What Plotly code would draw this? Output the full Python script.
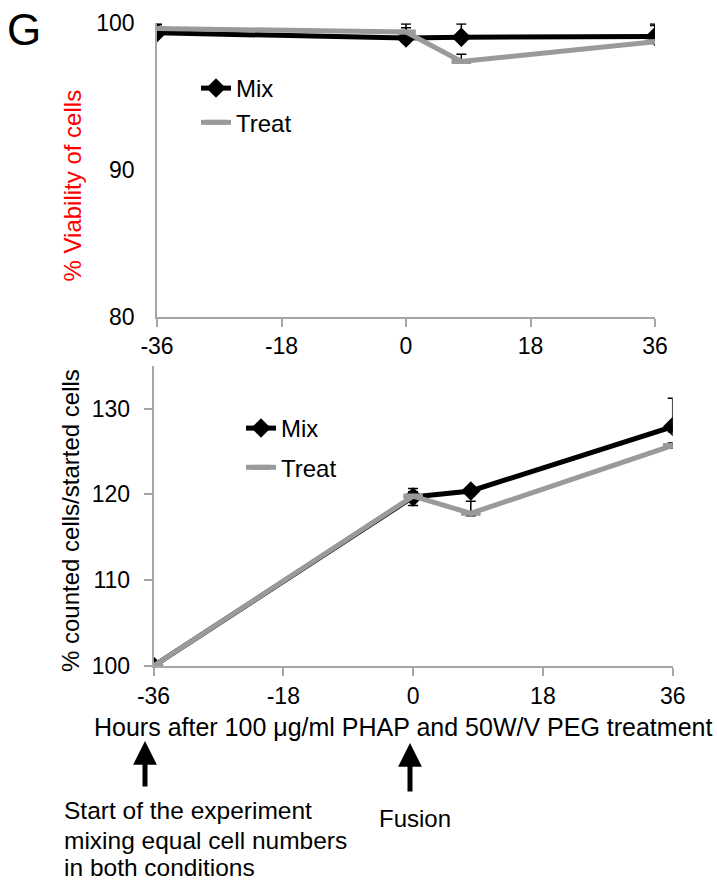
import plotly.graph_objects as go

W, H = 717, 884

hours = [-36, 0, 8, 36]
tick_vals = [-36, -18, 0, 18, 36]
tick_text = ["-36", "-18", "0", "18", "36"]

# Top panel: % viability
via_mix = [99.35, 99.0, 99.05, 99.1]
via_mix_err = [0.55, 0.95, 0.9, 0.85]
via_treat = [99.65, 99.4, 97.4, 98.75]
via_treat_err = [0.3, 0.3, 0.5, 1.1]
no_err = [0, 0, 0, 0]

# Bottom panel: % counted / started cells
cnt_mix = [100.0, 119.7, 120.4, 127.9]
cnt_mix_err_plus = [0.3, 1.0, 0.4, 3.3]
cnt_mix_err_minus = [0.3, 1.0, 0.4, 0.6]
cnt_treat = [100.0, 119.8, 117.8, 125.7]
cnt_treat_err_plus = [0.3, 0.5, 1.4, 0.3]
cnt_treat_err_minus = [0.3, 0.5, 0.3, 0.3]

start_note = ["Start of the experiment", "mixing equal cell numbers", "in both conditions"]

FONT = "Liberation Sans, Arial, sans-serif"
GREY = "#9a9a9a"
AXC = "#a6a6a6"

def px_x(p):
    return p / W

def px_y(p):
    return 1 - p / H

fig = go.Figure()

# Top
fig.add_trace(go.Scatter(
    x=hours, y=via_mix, name="Mix", mode="lines+markers",
    line=dict(color="black", width=5),
    marker=dict(symbol="diamond", size=15, color="black"),
    error_y=dict(type="data", array=via_mix_err, arrayminus=no_err, color="black", thickness=1.5, width=5),
    xaxis="x", yaxis="y", legend="legend", legendgroup="a"))
fig.add_trace(go.Scatter(
    x=hours, y=via_treat, name="Treat", mode="lines+markers",
    line=dict(color=GREY, width=5),
    marker=dict(symbol="line-ew", size=14, color=GREY, line=dict(color=GREY, width=5)),
    error_y=dict(type="data", array=via_treat_err, arrayminus=no_err, color="black", thickness=1.5, width=5),
    xaxis="x", yaxis="y", legend="legend", legendgroup="b"))

# Bottom
fig.add_trace(go.Scatter(
    x=hours, y=cnt_mix, name="Mix", mode="lines+markers",
    line=dict(color="black", width=5),
    marker=dict(symbol="diamond", size=15, color="black"),
    error_y=dict(type="data", array=cnt_mix_err_plus, arrayminus=cnt_mix_err_minus,
                 color="black", thickness=1.5, width=5),
    xaxis="x2", yaxis="y2", legend="legend2", legendgroup="c"))
fig.add_trace(go.Scatter(
    x=hours, y=cnt_treat, name="Treat", mode="lines+markers",
    line=dict(color=GREY, width=5),
    marker=dict(symbol="line-ew", size=14, color=GREY, line=dict(color=GREY, width=5)),
    error_y=dict(type="data", array=cnt_treat_err_plus, arrayminus=cnt_treat_err_minus,
                 color="black", thickness=1.5, width=5),
    xaxis="x2", yaxis="y2", legend="legend2", legendgroup="d"))

axis_common = dict(showgrid=False, zeroline=False, showline=True, linecolor=AXC, linewidth=1.5,
                   automargin=False, tickfont=dict(family=FONT, size=23, color="black"))

fig.update_layout(
    template="none",
    width=W, height=H,
    margin=dict(l=0, r=0, t=0, b=0, pad=0, autoexpand=False),
    paper_bgcolor="white", plot_bgcolor="white",
    font=dict(family=FONT, color="black"),
    xaxis=dict(domain=[px_x(157), px_x(655)], range=[-36, 36], anchor="y",
               tickmode="array", tickvals=tick_vals, ticktext=tick_text,
               ticks="outside", ticklen=8, tickwidth=1.5, tickcolor=AXC,
               ticklabelstandoff=0, **axis_common),
    yaxis=dict(domain=[px_y(317), px_y(23.3)], range=[80, 100], anchor="x",
               tickmode="array", tickvals=[80, 90, 100],
               ticks="", ticklabelstandoff=16, **axis_common),
    xaxis2=dict(domain=[px_x(153.5), px_x(672.7)], range=[-36, 36], anchor="y2",
                tickmode="array", tickvals=tick_vals, ticktext=tick_text,
                ticks="outside", ticklen=8, tickwidth=1.5, tickcolor=AXC,
                ticklabelstandoff=1, **axis_common),
    yaxis2=dict(domain=[px_y(666), px_y(365.7)], range=[100, 135], anchor="x2",
                tickmode="array", tickvals=[100, 110, 120, 130],
                ticks="outside", ticklen=8, tickwidth=1.5, tickcolor=AXC,
                ticklabelstandoff=9, **axis_common),
    legend=dict(x=px_x(196), y=px_y(66), xanchor="left", yanchor="top",
                bgcolor="rgba(0,0,0,0)", font=dict(family=FONT, size=24, color="black"),
                tracegroupgap=0, itemwidth=30),
    legend2=dict(x=px_x(241), y=px_y(406), xanchor="left", yanchor="top",
                 bgcolor="rgba(0,0,0,0)", font=dict(family=FONT, size=24, color="black"),
                 tracegroupgap=5, itemwidth=30),
    showlegend=True,
)

annotations = [
    dict(text="G", x=px_x(5), y=px_y(30), xanchor="left", yanchor="middle",
         font=dict(family=FONT, size=44, color="black")),
    dict(text="% Viability of cells", x=px_x(72), y=px_y(185.5), textangle=-90,
         xanchor="center", yanchor="middle", font=dict(family=FONT, size=24, color="red")),
    dict(text="% counted cells/started cells", x=px_x(70), y=px_y(521), textangle=-90,
         xanchor="center", yanchor="middle", font=dict(family=FONT, size=24, color="black")),
    dict(text="Hours after 100 \u03bcg/ml PHAP and 50W/V PEG treatment", x=px_x(402.5), y=px_y(727),
         xanchor="center", yanchor="middle", font=dict(family=FONT, size=25, color="black")),
    dict(text="Fusion", x=px_x(415), y=px_y(818), xanchor="center", yanchor="middle",
         font=dict(family=FONT, size=24, color="black")),
    dict(text="", x=px_x(145), y=px_y(741), ax=0, ay=47, showarrow=True,
         arrowhead=2, arrowwidth=5, arrowsize=0.95, arrowcolor="black"),
    dict(text="", x=px_x(410), y=px_y(743), ax=0, ay=50, showarrow=True,
         arrowhead=2, arrowwidth=5, arrowsize=0.95, arrowcolor="black"),
]
for line_text, cy in zip(start_note, [810, 840, 867]):
    annotations.append(dict(text=line_text, x=px_x(62), y=px_y(cy), xanchor="left", yanchor="middle",
                            align="left", font=dict(family=FONT, size=24.5, color="black")))

for a in annotations:
    a.setdefault("xref", "paper")
    a.setdefault("yref", "paper")
    a.setdefault("showarrow", False)
    fig.add_annotation(**a)

fig.write_html("out.html")
